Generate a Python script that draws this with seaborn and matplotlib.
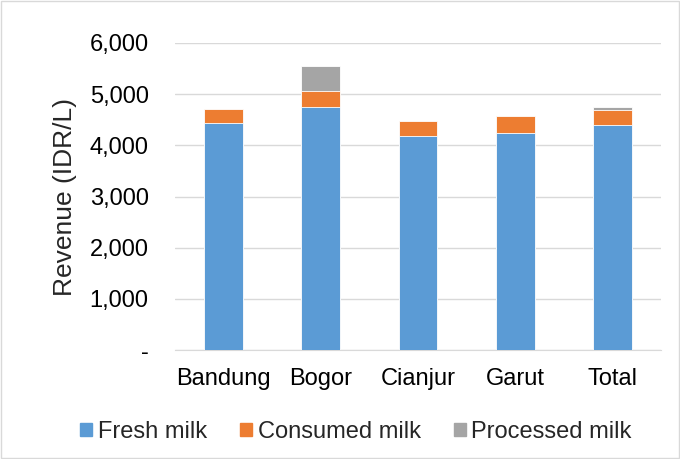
import numpy as np
import pandas as pd
import seaborn as sns
import matplotlib.pyplot as plt
from matplotlib.patches import Rectangle, Patch
from matplotlib.ticker import FuncFormatter

regions = ["Bandung", "Bogor", "Cianjur", "Garut", "Total"]
fresh = [4430, 4755, 4176, 4247, 4391]
consumed = [274, 312, 305, 332, 306]
processed = [0, 483, 0, 0, 58]

colors = {"Fresh milk": "#5b9bd5", "Consumed milk": "#ed7d31", "Processed milk": "#a5a5a5"}

sns.set_style("white")
plt.rcParams['font.family'] = ['Liberation Sans', 'DejaVu Sans']

# cumulative heights for stacking (draw tallest first)
lvl1 = np.array(fresh)
lvl2 = lvl1 + np.array(consumed)
lvl3 = lvl2 + np.array(processed)

df = pd.DataFrame({"region": regions, "fresh": lvl1, "consumed": lvl2, "processed": lvl3})

fig = plt.figure(figsize=(6.8, 4.59), dpi=100)
ax = fig.add_axes([175 / 680, 1 - 350 / 459, 486 / 680, 307 / 459])

for col, name in [("processed", "Processed milk"), ("consumed", "Consumed milk"), ("fresh", "Fresh milk")]:
    sns.barplot(data=df, x="region", y=col, color=colors[name], width=0.4,
                saturation=1, edgecolor="white", linewidth=0.6, ax=ax, zorder=3)

ax.set_ylim(0, 6000)
ax.set_yticks(range(0, 6001, 1000))
ax.yaxis.set_major_formatter(FuncFormatter(lambda v, p: "-" if v == 0 else f"{int(v):,}"))
ax.grid(axis="y", color="#d9d9d9", linewidth=1, zorder=0)
ax.set_axisbelow(True)
for s in ["top", "right", "left"]:
    ax.spines[s].set_visible(False)
ax.spines["bottom"].set_color("#d9d9d9")
ax.tick_params(axis="both", length=0, labelsize=17, colors="black")
ax.tick_params(axis="y", pad=19)
ax.tick_params(axis="x", pad=13)
ax.set_xlabel("")
ax.set_ylabel("Revenue (IDR/L)", fontsize=19, labelpad=9)

handles = [Patch(color=colors[n]) for n in ["Fresh milk", "Consumed milk", "Processed milk"]]
fig.legend(handles, ["Fresh milk", "Consumed milk", "Processed milk"], loc="center",
           bbox_to_anchor=(356 / 680, 1 - 432 / 459), ncol=3, frameon=False, fontsize=17,
           handlelength=0.5, handleheight=0.5, handletextpad=0.25, columnspacing=1.4,
           borderpad=0)

fig.patches.append(Rectangle((0.002, 0.002), 0.996, 0.996, transform=fig.transFigure,
                             fill=False, edgecolor="#d9d9d9", linewidth=1))

fig.savefig("out.png", dpi=100)
